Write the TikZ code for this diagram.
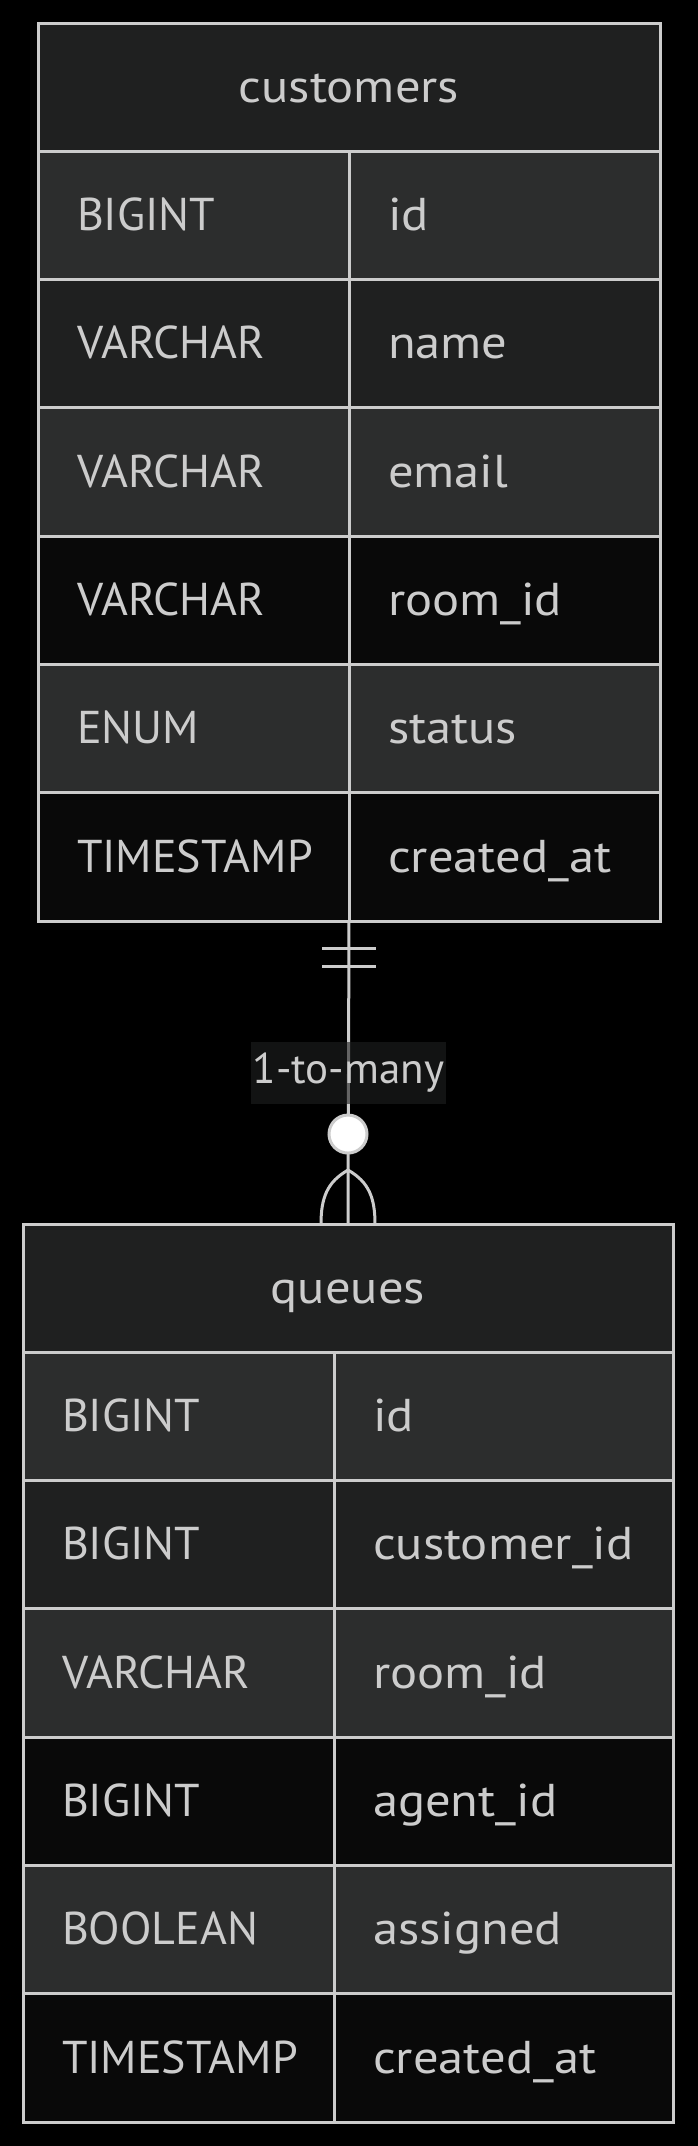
\documentclass[tikz,border=0pt]{standalone}
\usepackage{fontspec}
\setmainfont{PT Sans}
\newfontfamily\widefont[FakeStretch=1.1]{PT Sans}
\usetikzlibrary{positioning}

\definecolor{erline}{HTML}{CCCCCC}
\definecolor{erhead}{HTML}{1F2020}
\definecolor{errowa}{HTML}{2C2D2D}
\definecolor{errowb}{HTML}{1F2020}
\definecolor{errowc}{HTML}{090909}

\begin{document}
\begin{tikzpicture}[x=1pt, y=-1pt, node distance=0pt,
  cell/.style={draw=erline, line width=3pt, text=erline, outer sep=0pt, inner sep=0pt,
    minimum height=128.3pt, text height=34pt, text depth=4pt, font=\fontsize{46}{55}\selectfont},
  head/.style={cell, fill=erhead, font=\widefont\fontsize{46}{55}\selectfont},
  col/.style={cell, text width=#1, inner xsep=39pt, align=left},
  ncol/.style={col=#1, font=\widefont\fontsize{46}{55}\selectfont},
  ra/.style={fill=errowa}, rb/.style={fill=errowb}, rc/.style={fill=errowc},
  conn/.style={draw=erline, line width=3pt},
  lbl/.style={fill=erhead, fill opacity=0.6, text opacity=1, text=erline, inner sep=2pt,
    minimum height=62pt, font=\fontsize{43}{50}\selectfont}]
  \fill[black] (0,0) rectangle (698,2146);
  \useasboundingbox (0,0) rectangle (698,2146);

  % customers
  \node[head, minimum width=622pt] (c0) at (349,87.2) {customers};
  \node[col=233pt, ra, below right=0pt and 0pt of c0.south west] (c1t) {BIGINT};
  \node[ncol=233pt, ra, right=of c1t] (c1n) {id};
  \node[col=233pt, rb, below=of c1t] (c2t) {VARCHAR};
  \node[ncol=233pt, rb, right=of c2t] (c2n) {name};
  \node[col=233pt, ra, below=of c2t] (c3t) {VARCHAR};
  \node[ncol=233pt, ra, right=of c3t] (c3n) {email};
  \node[col=233pt, rc, below=of c3t] (c4t) {VARCHAR};
  \node[ncol=233pt, rc, right=of c4t] (c4n) {room\_id};
  \node[col=233pt, ra, below=of c4t] (c5t) {ENUM};
  \node[ncol=233pt, ra, right=of c5t] (c5n) {status};
  \node[col=233pt, rc, below=of c5t] (c6t) {TIMESTAMP};
  \node[ncol=233pt, rc, right=of c6t] (c6n) {created\_at};

  % queues
  \node[head, minimum width=650pt] (q0) at (348,1288.2) {queues};
  \node[col=233pt, ra, below right=0pt and 0pt of q0.south west] (q1t) {BIGINT};
  \node[ncol=261pt, ra, right=of q1t] (q1n) {id};
  \node[col=233pt, rb, below=of q1t] (q2t) {BIGINT};
  \node[ncol=261pt, rb, right=of q2t] (q2n) {customer\_id};
  \node[col=233pt, ra, below=of q2t] (q3t) {VARCHAR};
  \node[ncol=261pt, ra, right=of q3t] (q3n) {room\_id};
  \node[col=233pt, rc, below=of q3t] (q4t) {BIGINT};
  \node[ncol=261pt, rc, right=of q4t] (q4n) {agent\_id};
  \node[col=233pt, ra, below=of q4t] (q5t) {BOOLEAN};
  \node[ncol=261pt, ra, right=of q5t] (q5n) {assigned};
  \node[col=233pt, rc, below=of q5t] (q6t) {TIMESTAMP};
  \node[ncol=261pt, rc, right=of q6t] (q6n) {created\_at};

  % relation
  \draw[conn] (c6t.south east) -- node[lbl] {1-to-many} (q0.north);
  \draw[conn] ([shift={(-27,27)}]c6t.south east) -- ++(54,0);
  \draw[conn] ([shift={(-27,45)}]c6t.south east) -- ++(54,0);
  \draw[conn] ([shift={(0,-54)}]q0.north) .. controls ++(-21,12) and ++(0,-26) .. ([shift={(-27,0)}]q0.north);
  \draw[conn] ([shift={(0,-54)}]q0.north) .. controls ++(21,12) and ++(0,-26) .. ([shift={(27,0)}]q0.north);
  \draw[conn, fill=white] ([shift={(0,-90)}]q0.north) circle[radius=19];
\end{tikzpicture}
\end{document}
